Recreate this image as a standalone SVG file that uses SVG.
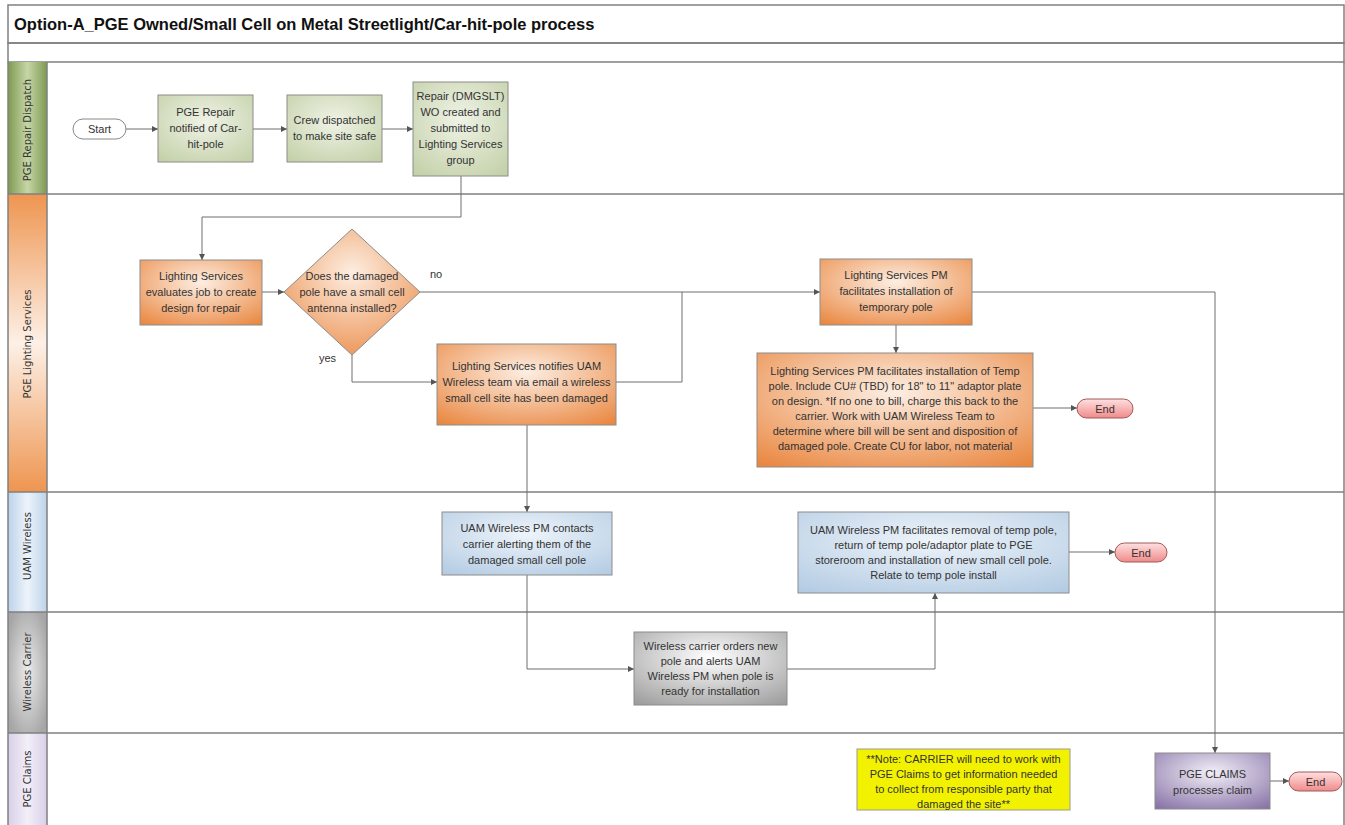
<svg xmlns="http://www.w3.org/2000/svg" width="1345" height="825" viewBox="0 0 1345 825">
<defs>
<style>
.t{font-family:"Liberation Sans",Arial,sans-serif;font-size:11px;fill:#333;text-anchor:middle}
.lbl{font-family:"Liberation Sans",Arial,sans-serif;font-size:11px;fill:#333}
.lane{font-family:"DejaVu Sans",Verdana,sans-serif;font-size:10px;fill:#333;text-anchor:middle}
.title{font-family:"Liberation Sans",Arial,sans-serif;font-size:16.5px;font-weight:bold;fill:#111}
.box{stroke:#8c8c8c;stroke-width:1}
.c{fill:none;stroke:#6e6e6e;stroke-width:1}
.ca{fill:none;stroke:#6e6e6e;stroke-width:1;marker-end:url(#ah)}
.ln{stroke:#808080;stroke-width:1.5;fill:none}
</style>
<marker id="ah" viewBox="0 0 6 6" refX="6" refY="3" markerWidth="6" markerHeight="6" markerUnits="userSpaceOnUse" orient="auto"><path d="M0,0 L6,3 L0,6 z" fill="#555"/></marker>
<linearGradient id="band" x1="0" y1="0" x2="0" y2="1"><stop offset="0" stop-color="#fbfbfb"/><stop offset="1" stop-color="#e9e9e9"/></linearGradient>
<linearGradient id="hGreen" x1="0" y1="0" x2="1" y2="0"><stop offset="0" stop-color="#7e9a52"/><stop offset="0.5" stop-color="#c6d6a6"/><stop offset="1" stop-color="#7e9a52"/></linearGradient>
<linearGradient id="hOrange" x1="0" y1="0" x2="0" y2="1"><stop offset="0" stop-color="#ee9550"/><stop offset="0.5" stop-color="#fdf0e6"/><stop offset="1" stop-color="#ee9550"/></linearGradient>
<linearGradient id="hBlue" x1="0" y1="0" x2="1" y2="0"><stop offset="0" stop-color="#bcd3ea"/><stop offset="0.5" stop-color="#edf3fa"/><stop offset="1" stop-color="#bcd3ea"/></linearGradient>
<radialGradient id="hGray" cx="0.5" cy="0.5" r="0.6"><stop offset="0" stop-color="#ececec"/><stop offset="1" stop-color="#a6a6a6"/></radialGradient>
<linearGradient id="hPurple" x1="0" y1="0" x2="1" y2="0"><stop offset="0" stop-color="#d8cfe8"/><stop offset="0.5" stop-color="#f2eff8"/><stop offset="1" stop-color="#d8cfe8"/></linearGradient>
<radialGradient id="gGreen" cx="0.5" cy="0.4" r="0.75"><stop offset="0" stop-color="#eff3e6"/><stop offset="1" stop-color="#c3d0a8"/></radialGradient>
<radialGradient id="gOrange" cx="0.5" cy="0.35" r="0.8"><stop offset="0" stop-color="#fdeee2"/><stop offset="1" stop-color="#e9863f"/></radialGradient>
<radialGradient id="gBlue" cx="0.5" cy="0.35" r="0.8"><stop offset="0" stop-color="#eef4fa"/><stop offset="1" stop-color="#b3cbe3"/></radialGradient>
<radialGradient id="gGray" cx="0.5" cy="0.35" r="0.8"><stop offset="0" stop-color="#ffffff"/><stop offset="1" stop-color="#9c9c9c"/></radialGradient>
<radialGradient id="gPurple" cx="0.5" cy="0.35" r="0.8"><stop offset="0" stop-color="#f2eff7"/><stop offset="1" stop-color="#8671a6"/></radialGradient>
<linearGradient id="gEnd" x1="0" y1="0" x2="0" y2="1"><stop offset="0" stop-color="#ffe0e0"/><stop offset="1" stop-color="#f08a8a"/></linearGradient>
</defs>

<g id="frame">
<rect x="8" y="5" width="1336" height="38" fill="url(#band)" class="ln"/>
<rect x="8" y="43" width="1336" height="19" fill="url(#band)" class="ln"/>
<text class="title" x="14" y="30">Option-A_PGE Owned/Small Cell on Metal Streetlight/Car-hit-pole process</text>
<rect x="8" y="62" width="39" height="132" fill="url(#hGreen)"/>
<rect x="8" y="194" width="39" height="298" fill="url(#hOrange)"/>
<rect x="8" y="492" width="39" height="120" fill="url(#hBlue)"/>
<rect x="8" y="612" width="39" height="121" fill="url(#hGray)"/>
<rect x="8" y="733" width="39" height="92" fill="url(#hPurple)"/>
<path class="ln" d="M8,62 V825 M1344,62 V825 M47,62 V825 M8,194 H1344 M8,492 H1344 M8,612 H1344 M8,733 H1344"/>
<text class="lane" transform="translate(31,130) rotate(-90)">PGE Repair Dispatch</text>
<text class="lane" transform="translate(31,344) rotate(-90)">PGE Lighting Services</text>
<text class="lane" transform="translate(31,546) rotate(-90)">UAM Wireless</text>
<text class="lane" transform="translate(31,672) rotate(-90)">Wireless Carrier</text>
<text class="lane" transform="translate(31,779) rotate(-90)">PGE Claims</text>
</g>

<g id="connectors">
<path class="ca" d="M126,129 H158"/>
<path class="ca" d="M253,129 H287"/>
<path class="ca" d="M382,129 H413"/>
<path class="ca" d="M461,176 V217 H202 V260"/>
<path class="ca" d="M262,292 H284"/>
<path class="ca" d="M420,292 H820"/>
<path class="ca" d="M352,355 V382 H437"/>
<path class="c" d="M616,382 H682 V292"/>
<path class="ca" d="M972,292 H1215 V753"/>
<path class="ca" d="M896,325 V353"/>
<path class="ca" d="M1033,408 H1077"/>
<path class="ca" d="M527,425 V512"/>
<path class="ca" d="M527,575 V669 H634"/>
<path class="ca" d="M787,669 H935 V593"/>
<path class="ca" d="M1069,552 H1115"/>
<path class="ca" d="M1270,781 H1289"/>
<text class="lbl" x="430" y="278">no</text>
<text class="lbl" x="319" y="362">yes</text>
</g>

<g id="start">
<rect x="73" y="119" width="53" height="20" rx="10" fill="#fff" stroke="#888"/>
<text class="t" x="99.5" y="133">Start</text>
</g>
<g id="pge-repair">
<rect class="box" x="158" y="95" width="95" height="67" fill="url(#gGreen)"/>
<text class="t" x="205.5" y="116">PGE Repair</text>
<text class="t" x="205.5" y="132">notified of Car-</text>
<text class="t" x="205.5" y="148">hit-pole</text>
</g>
<g id="crew">
<rect class="box" x="287" y="95" width="95" height="67" fill="url(#gGreen)"/>
<text class="t" x="334.5" y="124">Crew dispatched</text>
<text class="t" x="334.5" y="140">to make site safe</text>
</g>
<g id="repair-wo">
<rect class="box" x="413" y="82" width="95" height="94" fill="url(#gGreen)"/>
<text class="t" x="460.5" y="100">Repair (DMGSLT)</text>
<text class="t" x="460.5" y="116">WO created and</text>
<text class="t" x="460.5" y="132">submitted to</text>
<text class="t" x="460.5" y="148">Lighting Services</text>
<text class="t" x="460.5" y="164">group</text>
</g>
<g id="ls-evaluates">
<rect class="box" x="140" y="260" width="122" height="65" fill="url(#gOrange)"/>
<text class="t" x="201" y="280">Lighting Services</text>
<text class="t" x="201" y="296">evaluates job to create</text>
<text class="t" x="201" y="312">design for repair</text>
</g>
<g id="decision">
<path d="M352,229 L420,292 L352,355 L284,292 Z" fill="url(#gOrange)" stroke="#8c8c8c"/>
<text class="t" x="352" y="280">Does the damaged</text>
<text class="t" x="352" y="296">pole have a small cell</text>
<text class="t" x="352" y="312">antenna installed?</text>
</g>
<g id="ls-notifies">
<rect class="box" x="437" y="344" width="179" height="81" fill="url(#gOrange)"/>
<text class="t" x="526.5" y="370">Lighting Services notifies UAM</text>
<text class="t" x="526.5" y="386">Wireless team via email a wireless</text>
<text class="t" x="526.5" y="402">small cell site has been damaged</text>
</g>
<g id="ls-pm-temp">
<rect class="box" x="820" y="259" width="152" height="66" fill="url(#gOrange)"/>
<text class="t" x="896" y="279">Lighting Services PM</text>
<text class="t" x="896" y="295">facilitates installation of</text>
<text class="t" x="896" y="311">temporary pole</text>
</g>
<g id="ls-pm-install">
<rect class="box" x="757" y="353" width="276" height="114" fill="url(#gOrange)"/>
<text class="t" x="895" y="375">Lighting Services PM facilitates installation of Temp</text>
<text class="t" x="895" y="390">pole. Include CU# (TBD) for 18" to 11" adaptor plate</text>
<text class="t" x="895" y="405">on design. *If no one to bill, charge this back to the</text>
<text class="t" x="895" y="420">carrier. Work with UAM Wireless Team to</text>
<text class="t" x="895" y="435">determine where bill will be sent and disposition of</text>
<text class="t" x="895" y="450">damaged pole. Create CU for labor, not material</text>
</g>
<g id="end1">
<rect x="1077" y="399" width="56" height="19" rx="9.5" fill="url(#gEnd)" stroke="#a05a5a"/>
<text class="t" x="1105" y="412.5">End</text>
</g>
<g id="uam-contacts">
<rect class="box" x="442" y="512" width="170" height="63" fill="url(#gBlue)"/>
<text class="t" x="527" y="532">UAM Wireless PM contacts</text>
<text class="t" x="527" y="548">carrier alerting them of the</text>
<text class="t" x="527" y="564">damaged small cell pole</text>
</g>
<g id="uam-removal">
<rect class="box" x="798" y="512" width="271" height="81" fill="url(#gBlue)"/>
<text class="t" x="933.5" y="534">UAM Wireless PM facilitates removal of temp pole,</text>
<text class="t" x="933.5" y="549">return of temp pole/adaptor plate to PGE</text>
<text class="t" x="933.5" y="564">storeroom and installation of new small cell pole.</text>
<text class="t" x="933.5" y="579">Relate to temp pole install</text>
</g>
<g id="end2">
<rect x="1115" y="543" width="52" height="19" rx="9.5" fill="url(#gEnd)" stroke="#a05a5a"/>
<text class="t" x="1141" y="556.5">End</text>
</g>
<g id="carrier-orders">
<rect class="box" x="634" y="632" width="153" height="73" fill="url(#gGray)"/>
<text class="t" x="710.5" y="650">Wireless carrier orders new</text>
<text class="t" x="710.5" y="665">pole and alerts UAM</text>
<text class="t" x="710.5" y="680">Wireless PM when pole is</text>
<text class="t" x="710.5" y="695">ready for installation</text>
</g>
<g id="note">
<rect x="857" y="749" width="213" height="61" fill="#f2f200" stroke="#999"/>
<text class="t" x="963.5" y="763">**Note: CARRIER will need to work with</text>
<text class="t" x="963.5" y="778">PGE Claims to get information needed</text>
<text class="t" x="963.5" y="793">to collect from responsible party that</text>
<text class="t" x="963.5" y="808">damaged the site**</text>
</g>
<g id="claims">
<rect class="box" x="1155" y="753" width="115" height="56" fill="url(#gPurple)"/>
<text class="t" x="1212.5" y="778">PGE CLAIMS</text>
<text class="t" x="1212.5" y="794">processes claim</text>
</g>
<g id="end3">
<rect x="1289" y="772" width="53" height="19" rx="9.5" fill="url(#gEnd)" stroke="#a05a5a"/>
<text class="t" x="1315.5" y="785.5">End</text>
</g>
</svg>
